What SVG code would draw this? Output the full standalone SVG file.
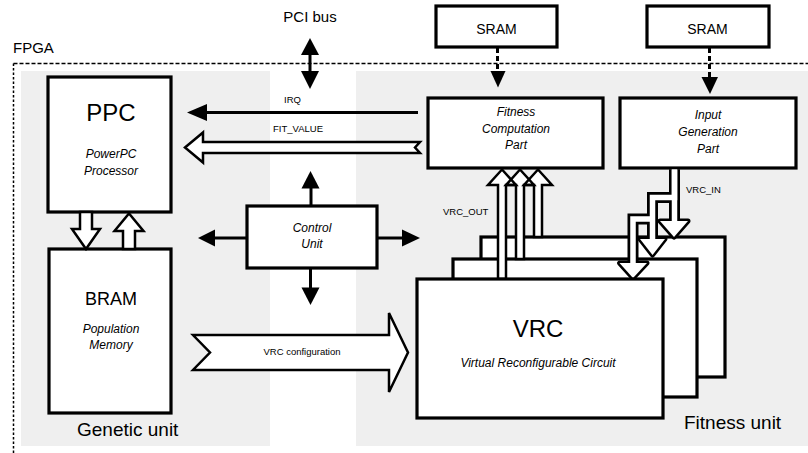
<svg xmlns="http://www.w3.org/2000/svg" width="808" height="453" viewBox="0 0 808 453">
<style>
.t{font-family:"Liberation Sans",Arial,Helvetica,sans-serif;fill:#000}
.i{font-style:italic}
.box{fill:#fff;stroke:#000;stroke-width:3.2}
.ln{stroke:#000;stroke-width:3;fill:none}
.hd{fill:#000;stroke:none}
.hf{fill:#fff;stroke:none}
.hs{fill:none;stroke:#000;stroke-width:2.5;stroke-linejoin:miter}
.ho{fill:#fff;stroke:#000;stroke-width:2.5;stroke-linejoin:miter}
.sk{fill:none;stroke:#000;stroke-width:11;stroke-linejoin:miter}
.sw{fill:none;stroke:#fff;stroke-width:5.5;stroke-linejoin:miter}
.dot{stroke:#000;stroke-width:1.5;fill:none}
.sm{font-size:9.5px}
.md{font-size:12px}
</style>
<rect x="0" y="0" width="808" height="453" fill="#fff"/>
<g id="regions">
<rect x="21" y="71" width="249" height="375" fill="#efefef"/>
<rect x="356" y="71" width="452" height="375" fill="#efefef"/>
</g>
<g id="fpga-frame">
<line class="dot" x1="13.5" y1="63.5" x2="808" y2="63.5" stroke-dasharray="4 2"/>
<line class="dot" x1="13.5" y1="63.5" x2="13.5" y2="453" stroke-dasharray="2.5 2"/>
<text class="t" x="13" y="53" font-size="15">FPGA</text>
<text class="t" x="684" y="429" font-size="19">Fitness unit</text>
<text class="t" x="77" y="436" font-size="19">Genetic unit</text>
<text class="t" x="310" y="22" font-size="15" text-anchor="middle">PCI bus</text>
</g>
<g id="ppc">
<rect class="box" x="48" y="77" width="123" height="135"/>
<text class="t" x="111" y="121" font-size="24" text-anchor="middle">PPC</text>
<text class="t i md" x="111" y="158" text-anchor="middle">PowerPC</text>
<text class="t i md" x="111" y="175" text-anchor="middle">Processor</text>
</g>
<g id="bram">
<rect class="box" x="49" y="249" width="122" height="164"/>
<text class="t" x="111" y="305" font-size="18" text-anchor="middle">BRAM</text>
<text class="t i md" x="111" y="333" text-anchor="middle">Population</text>
<text class="t i md" x="111" y="349" text-anchor="middle">Memory</text>
</g>
<g id="control">
<rect class="box" x="247" y="206" width="130" height="62"/>
<text class="t i md" x="312" y="232" text-anchor="middle">Control</text>
<text class="t i md" x="312" y="248" text-anchor="middle">Unit</text>
</g>
<g id="sram1">
<rect class="box" x="436" y="6" width="121" height="41"/>
<text class="t" x="496.5" y="33.5" font-size="14" text-anchor="middle">SRAM</text>
</g>
<g id="sram2">
<rect class="box" x="647" y="6" width="122" height="41"/>
<text class="t" x="707.5" y="33.5" font-size="14" text-anchor="middle">SRAM</text>
</g>
<g id="fitness-computation">
<rect class="box" x="428" y="98" width="175" height="70"/>
<text class="t i md" x="516" y="116" text-anchor="middle">Fitness</text>
<text class="t i md" x="516" y="133" text-anchor="middle">Computation</text>
<text class="t i md" x="516" y="149" text-anchor="middle">Part</text>
</g>
<g id="input-generation">
<rect class="box" x="620" y="98" width="176" height="70"/>
<text class="t i md" x="708" y="119" text-anchor="middle">Input</text>
<text class="t i md" x="708" y="136" text-anchor="middle">Generation</text>
<text class="t i md" x="708" y="153" text-anchor="middle">Part</text>
</g>
<g id="vrc-copies">
<rect class="box" x="481" y="237" width="244" height="140"/>
<rect class="box" x="453" y="259" width="244" height="138"/>
</g>
<g id="connectors">
<!-- PCI bus -->
<line class="ln" x1="310" y1="54" x2="310" y2="72" stroke-width="3.5"/>
<polygon class="hd" points="310,38 319,55 301,55"/>
<polygon class="hd" points="310,89 319,71 301,71"/>
<!-- SRAM dashed -->
<line class="ln" x1="497.5" y1="48" x2="497.5" y2="72" stroke-dasharray="5 3"/>
<polygon class="hd" points="490.5,71 505.5,71 498,87.5"/>
<line class="ln" x1="709.5" y1="48" x2="709.5" y2="78" stroke-dasharray="5 3"/>
<polygon class="hd" points="701.5,77 718,77 710,94"/>
<!-- IRQ -->
<line class="ln" x1="418" y1="112.5" x2="205" y2="112.5"/>
<polygon class="hd" points="187,112.5 207,104 207,121"/>
<text class="t sm" x="284" y="103">IRQ</text>
<!-- FIT_VALUE -->
<polygon class="ho" points="185,147.5 203,132.5 203,142 420,142 415,147.5 420,153 203,153 203,162.5"/>
<text class="t sm" x="273" y="132">FIT_VALUE</text>
<!-- Control unit -->
<line class="ln" x1="311" y1="206" x2="311" y2="187"/>
<polygon class="hd" points="310.5,171 319.5,188.5 301.5,188.5"/>
<line class="ln" x1="247" y1="238" x2="214" y2="238"/>
<polygon class="hd" points="198,238 215,229.5 215,246.5"/>
<line class="ln" x1="377" y1="238" x2="403" y2="238"/>
<polygon class="hd" points="420,238 402,229.5 402,246.5"/>
<line class="ln" x1="310.5" y1="268" x2="310.5" y2="289"/>
<polygon class="hd" points="310.5,305 319.5,287.5 301.5,287.5"/>
<!-- PPC <-> BRAM -->
<polygon class="ho" points="80,212 92,212 92,229 100,229 86,249 72,229 80,229"/>
<polygon class="ho" points="123,249 135,249 135,231 143.5,231 129,213.5 114.5,231 123,231"/>
<!-- VRC configuration -->
<polygon class="ho" stroke-width="3" points="193,335 389,335 389,313 408,352.5 389,392 389,370 193,370 210,352.5"/>
<text class="t sm" x="302" y="355" text-anchor="middle">VRC configuration</text>
<!-- VRC_OUT -->
<g>
<polygon class="hf" points="502,169.5 516,185 506,185 506,279 498,279 498,185 488,185"/>
<polygon class="hf" points="520,169.5 534,185 524,185 524,259 516,259 516,185 506,185"/>
<polygon class="hf" points="538,169.5 552,185 542,185 542,237 534,237 534,185 524,185"/>
<polygon class="hs" points="502,169.5 516,185 506,185 506,279 498,279 498,185 488,185"/>
<polygon class="hs" points="520,169.5 534,185 524,185 524,259 516,259 516,185 506,185"/>
<polygon class="hs" points="538,169.5 552,185 542,185 542,237 534,237 534,185 524,185"/>
</g>
<text class="t sm" x="443" y="215">VRC_OUT</text>
<!-- VRC_IN -->
<g>
<polyline class="sk" points="674.5,169.5 674.5,221"/>
<polyline class="sk" points="674.5,169.5 674.5,197.5 652.5,197.5 652.5,239"/>
<polyline class="sk" points="652.5,219 633,219 633,263"/>
<polygon fill="#000" stroke="#000" stroke-width="5" stroke-linejoin="round" points="660,221 688,221 674,237"/>
<polygon fill="#000" stroke="#000" stroke-width="5" stroke-linejoin="round" points="640,239 665,239 652.5,255"/>
<polygon fill="#000" stroke="#000" stroke-width="5" stroke-linejoin="round" points="619.5,263 647,263 633,278"/>
<polyline class="sw" points="674.5,169.5 674.5,222"/>
<polyline class="sw" points="674.5,169.5 674.5,197.5 652.5,197.5 652.5,240"/>
<polyline class="sw" points="652.5,219 633,219 633,264"/>
<polygon fill="#fff" points="660,221 688,221 674,237"/>
<polygon fill="#fff" points="640,239 665,239 652.5,255"/>
<polygon fill="#fff" points="619.5,263 647,263 633,278"/>
</g>
<text class="t sm" x="686" y="193">VRC_IN</text>
</g>
<g id="vrc">
<rect class="box" x="417" y="279" width="246" height="139"/>
<text class="t" x="538" y="337" font-size="24" text-anchor="middle">VRC</text>
<text class="t i md" x="538" y="367" text-anchor="middle">Virtual Reconfigurable Circuit</text>
</g>
</svg>
